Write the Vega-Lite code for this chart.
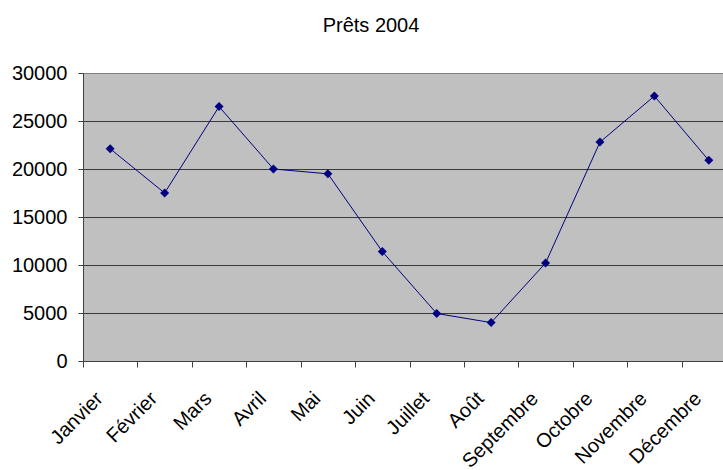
{
  "$schema": "https://vega.github.io/schema/vega-lite/v6.json",
  "width": 640,
  "height": 288,
  "autosize": {"type": "none"},
  "padding": {"left": 83, "top": 73, "right": 0, "bottom": 109},
  "background": "white",
  "title": {"text": "Prêts 2004", "font": "Liberation Sans", "fontSize": 20, "fontWeight": "normal", "color": "black", "anchor": "middle", "dx": -32, "offset": 11, "baseline": "alphabetic"},
  "config": {"view": {"fill": "#c0c0c0", "stroke": "#808080", "strokeWidth": 1}, "font": "Liberation Sans"},
  "data": {"values": [
    {"mois": "Janvier", "prets": 22100},
    {"mois": "Février", "prets": 17500},
    {"mois": "Mars", "prets": 26500},
    {"mois": "Avril", "prets": 20000},
    {"mois": "Mai", "prets": 19500},
    {"mois": "Juin", "prets": 11400},
    {"mois": "Juillet", "prets": 4950},
    {"mois": "Août", "prets": 4000},
    {"mois": "Septembre", "prets": 10200},
    {"mois": "Octobre", "prets": 22800},
    {"mois": "Novembre", "prets": 27600},
    {"mois": "Décembre", "prets": 20900}
  ]},
  "mark": {"type": "line", "color": "#000080", "strokeWidth": 1, "point": {"shape": "diamond", "size": 81, "filled": true, "color": "#000080", "opacity": 1}},
  "encoding": {
    "x": {"field": "mois", "type": "nominal", "sort": null, "bandPosition": 0.5,
      "scale": {"type": "band", "paddingInner": 0, "paddingOuter": 0, "range": [0, 653]},
      "axis": {"title": null, "tickBand": "extent", "domainColor": "#404040", "tickColor": "#404040", "tickSize": 6, "labelAngle": -45, "labelAlign": "right", "labelBaseline": "top", "labelFontSize": 20, "labelFont": "Liberation Sans", "labelColor": "black", "labelPadding": 21, "labelOffset": -18, "grid": false, "labelOverlap": false, "labelLimit": 0}},
    "y": {"field": "prets", "type": "quantitative", "scale": {"domain": [0, 30000]},
      "axis": {"title": null, "format": "d", "values": [0, 5000, 10000, 15000, 20000, 25000, 30000], "grid": true,
        "gridColor": {"condition": {"test": "datum.value === 30000", "value": "#808080"}, "value": "#3a3a3a"},
        "gridOpacity": 1, "domainColor": "#404040", "tickColor": "#404040", "tickSize": 5, "labelPadding": 11, "labelFontSize": 20, "labelColor": "black", "labelFont": "Liberation Sans"}}
  }
}
